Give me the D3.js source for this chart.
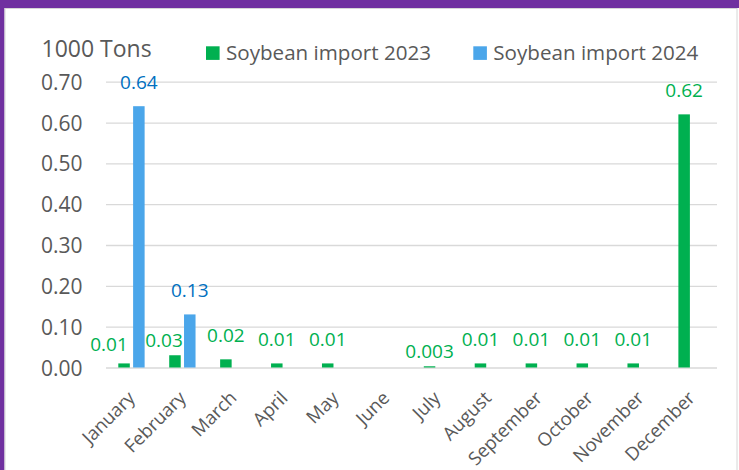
<!DOCTYPE html>
<html>
<head>
<meta charset="utf-8">
<script src="https://cdn.jsdelivr.net/npm/d3@7"></script>
<style>
  body { margin: 0; background: #fff; }
  svg { display: block; }
  text { font-family: "Open Sans", "Noto Sans", sans-serif; }
</style>
</head>
<body>
<svg id="chart" width="739" height="470"></svg>
<script>
// Monthly soybean imports, thousand tons
const months = ["January", "February", "March", "April", "May", "June",
                "July", "August", "September", "October", "November", "December"];
const import2023 = [0.01, 0.03, 0.02, 0.01, 0.01, null, 0.003, 0.01, 0.01, 0.01, 0.01, 0.62];
const import2024 = [0.64, 0.13, null, null, null, null, null, null, null, null, null, null];
const seriesNames = ["Soybean import 2023", "Soybean import 2024"];
const yTicks = [0, 0.1, 0.2, 0.3, 0.4, 0.5, 0.6, 0.7];
const unitLabel = "1000 Tons";

// Styling
const colors = ["#00B050", "#4BA6EA"];
const labelColors = ["#00B050", "#0070C0"];
const textGray = "#595959";
const gridGray = "#D9D9D9";

// Hand-placed labels that would otherwise crowd their neighbours: [dx, dy]
const labelShift = [
  { January: [-15, 5], February: [-11, 9], July: [0, 9.5] },
  {}
];

const W = 739, H = 470;
const plot = { left: 106, right: 717, top: 81.7, bottom: 367.5 };

const svg = d3.select("#chart");

// Frame: purple band along the top and left edge, white panel inside
svg.append("rect").attr("x", 0).attr("y", 0).attr("width", W).attr("height", H).attr("fill", "#fff");
svg.append("rect").attr("x", 0).attr("y", 0).attr("width", W).attr("height", 8).attr("fill", "#7030A0");
svg.append("rect").attr("x", 0).attr("y", 0).attr("width", 4.5).attr("height", H).attr("fill", "#7030A0");
svg.append("rect").attr("x", 5).attr("y", 8.5).attr("width", 732).attr("height", 470)
  .attr("fill", "#fff").attr("stroke", "#D6D6D6").attr("stroke-width", 1);

const x = d3.scaleBand().domain(months).range([plot.left, plot.right]).padding(0);
const x1 = d3.scaleBand().domain(seriesNames).range([0, x.bandwidth()])
  .paddingInner(0.223).paddingOuter(0.83);
const y = d3.scaleLinear().domain([0, 0.7]).range([plot.bottom, plot.top]);

// Y axis with gridlines
const yAxis = svg.append("g")
  .attr("transform", `translate(${plot.left},0)`)
  .call(d3.axisLeft(y).tickValues(yTicks).tickFormat(d3.format(".2f"))
    .tickSize(-(plot.right - plot.left)).tickPadding(23.5));
yAxis.select(".domain").remove();
yAxis.selectAll(".tick line").attr("stroke", gridGray).attr("stroke-width", 1.3);
yAxis.selectAll(".tick text").attr("fill", textGray).style("font-size", "21px")
  .attr("dy", "0.36em");

// X axis labels, rotated
const xAxis = svg.append("g")
  .attr("transform", `translate(0,${plot.bottom})`)
  .call(d3.axisBottom(x).tickSize(0).tickPadding(0));
xAxis.select(".domain").remove();
xAxis.selectAll(".tick text")
  .attr("fill", textGray).style("font-size", "18.5px")
  .attr("text-anchor", "end")
  .attr("dy", "0.35em")
  .attr("transform", "translate(0,27) rotate(-45)");

// Bars
const series = [import2023, import2024];
series.forEach((vals, si) => {
  const name = seriesNames[si];
  const pts = months.map((m, i) => ({ m, v: vals[i] })).filter(d => d.v != null);
  svg.append("g").selectAll("rect").data(pts).join("rect")
    .attr("x", d => x(d.m) + x1(name))
    .attr("width", x1.bandwidth())
    .attr("y", d => y(d.v))
    .attr("height", d => y(0) - y(d.v))
    .attr("fill", colors[si]);

  svg.append("g").selectAll("text").data(pts).join("text")
    .attr("x", d => x(d.m) + x1(name) + x1.bandwidth() / 2 + (labelShift[si][d.m] || [0, 0])[0])
    .attr("y", d => y(d.v) - 17.5 + (labelShift[si][d.m] || [0, 0])[1])
    .attr("text-anchor", "middle")
    .attr("fill", labelColors[si])
    .style("font-size", "19px")
    .text(d => String(d.v));
});

// Unit label and legend
svg.append("text").attr("x", 41.5).attr("y", 56.7)
  .attr("fill", textGray).style("font-size", "23px").text(unitLabel);

const legendX = [206, 473.3];
const legend = svg.append("g");
seriesNames.forEach((name, i) => {
  legend.append("rect").attr("x", legendX[i]).attr("y", 46.3)
    .attr("width", 13.6).attr("height", 13.6).attr("fill", colors[i]);
  legend.append("text").attr("x", legendX[i] + 20).attr("y", 60)
    .attr("fill", textGray).style("font-size", "20.6px").text(name);
});
</script>
</body>
</html>
